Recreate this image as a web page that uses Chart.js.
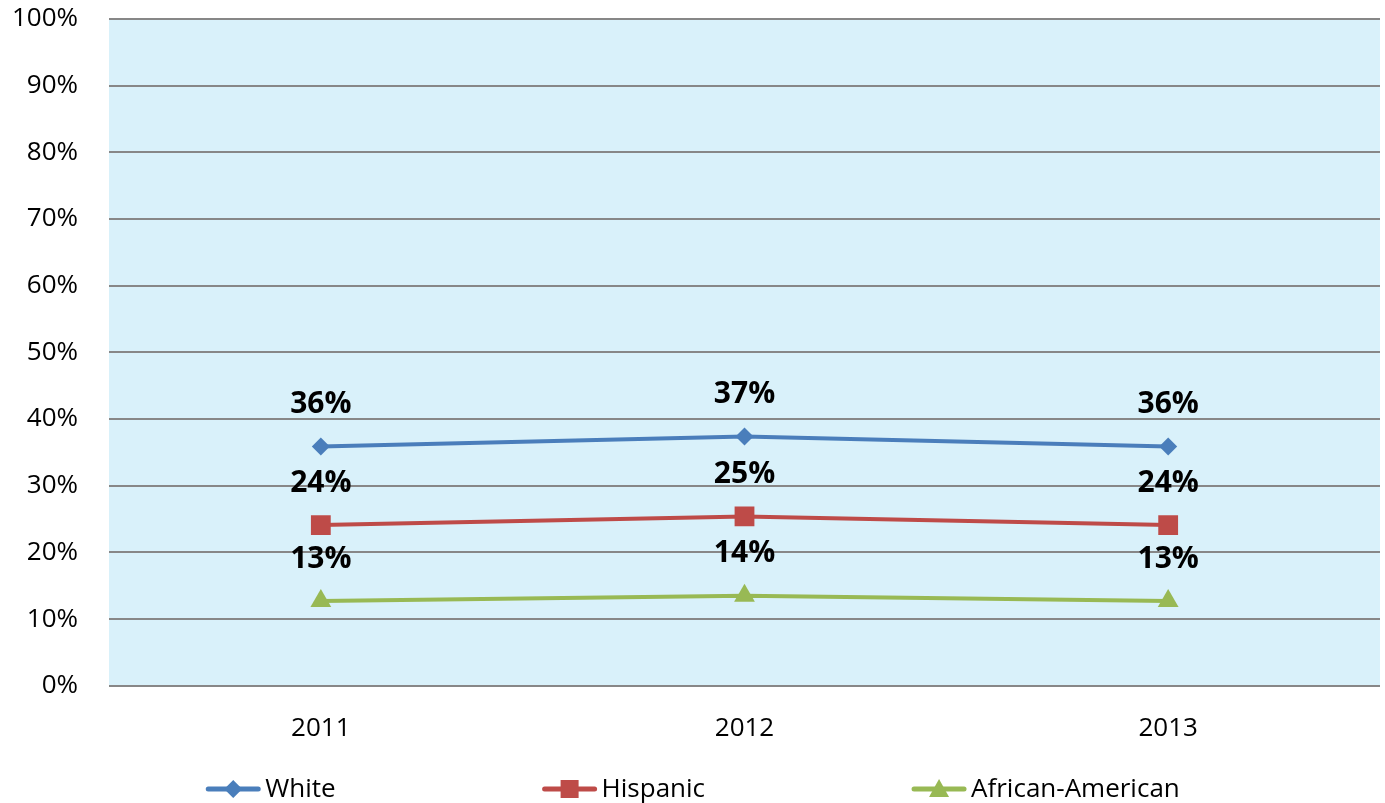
<!DOCTYPE html>
<html>
<head>
<meta charset="utf-8">
<script src="https://cdn.jsdelivr.net/npm/chart.js@4.4.1/dist/chart.umd.min.js"></script>
<style>
	body { margin: 0; background: #ffffff; }
	#wrap { width: 1385px; height: 803px; position: relative; }
</style>
</head>
<body>
<div id="wrap"><canvas id="chart"></canvas></div>
<script>
const years = ['2011', '2012', '2013'];
const white = [35.9, 37.4, 35.9];
const hispanic = [24.1, 25.4, 24.1];
const africanAmerican = [12.7, 13.5, 12.7];

const FONT = '"Open Sans", "Liberation Sans", sans-serif';

// marker shape for the legend (lines use Chart.js point styles)
function drawMarker(ctx, style, x, y) {
	ctx.beginPath();
	if (style === 'rectRot') {
		ctx.moveTo(x, y - 9); ctx.lineTo(x + 9, y); ctx.lineTo(x, y + 9); ctx.lineTo(x - 9, y);
	} else if (style === 'rect') {
		ctx.rect(x - 9, y - 9, 18, 18);
	} else {
		ctx.moveTo(x, y - 10); ctx.lineTo(x + 10, y + 8); ctx.lineTo(x - 10, y + 8);
	}
	ctx.closePath();
	ctx.fill();
}

// percentage labels above each point
const valueLabels = {
	id: 'valueLabels',
	afterDatasetsDraw(chart) {
		const ctx = chart.ctx;
		ctx.save();
		ctx.font = 'bold 30px ' + FONT;
		ctx.fillStyle = '#000000';
		ctx.textAlign = 'center';
		ctx.textBaseline = 'middle';
		chart.data.datasets.forEach((ds, i) => {
			chart.getDatasetMeta(i).data.forEach((pt, j) => {
				ctx.fillText(Math.round(ds.data[j]) + '%', pt.x, pt.y - 42);
			});
		});
		ctx.restore();
	}
};

// light blue plot background
const plotBackground = {
	id: 'plotBackground',
	beforeDraw(chart) {
		const a = chart.chartArea;
		chart.ctx.save();
		chart.ctx.fillStyle = '#d9f1fa';
		chart.ctx.fillRect(a.left, a.top, a.right - a.left, a.bottom - a.top);
		chart.ctx.restore();
	}
};

// bottom legend: line + marker, then the name, items spread wide
const bottomLegend = {
	id: 'bottomLegend',
	afterDraw(chart) {
		const ctx = chart.ctx;
		const y = 789;
		const gap = 206;
		ctx.save();
		ctx.font = '26px ' + FONT;
		ctx.textBaseline = 'middle';
		const items = chart.data.datasets.map(ds => ({
			ds: ds,
			w: 56 + 4 + ctx.measureText(ds.label).width,
		}));
		const total = items.reduce((s, it) => s + it.w, 0) + gap * (items.length - 1);
		let x = (chart.width - total) / 2;
		items.forEach(it => {
			ctx.strokeStyle = it.ds.borderColor;
			ctx.fillStyle = it.ds.borderColor;
			ctx.lineWidth = 5;
			ctx.lineCap = 'round';
			ctx.beginPath();
			ctx.moveTo(x + 3, y);
			ctx.lineTo(x + 53, y);
			ctx.stroke();
			drawMarker(ctx, it.ds.pointStyle, x + 28, y);
			ctx.fillStyle = '#000000';
			ctx.fillText(it.ds.label, x + 60, y + 1);
			x += it.w + gap;
		});
		ctx.restore();
	}
};

const series = [
	{ label: 'White', data: white, color: '#4a7ebb', style: 'rectRot', radius: 9 },
	{ label: 'Hispanic', data: hispanic, color: '#be4b48', style: 'rect', radius: 14 },
	{ label: 'African-American', data: africanAmerican, color: '#98b954', style: 'triangle', radius: 12 },
];

const config = {
	type: 'line',
	data: {
		labels: years,
		datasets: series.map(s => ({
			label: s.label,
			data: s.data,
			borderColor: s.color,
			backgroundColor: s.color,
			borderWidth: 4,
			pointStyle: s.style,
			pointRadius: s.radius,
			pointBorderWidth: 0,
			tension: 0,
		}))
	},
	options: {
		responsive: true,
		maintainAspectRatio: false,
		animation: false,
		layout: {
			autoPadding: false,
			padding: { left: 0, right: 5, top: 19, bottom: 40 },
		},
		scales: {
			x: {
				offset: true,
				grid: { display: false },
				border: { display: false },
				afterFit(scale) {
					scale.paddingLeft = 0;
					scale.paddingRight = 0;
				},
				ticks: {
					color: '#000000',
					padding: 19,
					font: { family: FONT, size: 26 },
				},
			},
			y: {
				min: 0,
				max: 100,
				border: { display: false },
				grid: {
					color: '#878787',
					lineWidth: 2,
					drawTicks: false,
				},
				afterFit(scale) {
					scale.width = 109;
					scale.paddingTop = 0;
					scale.paddingBottom = 0;
				},
				ticks: {
					stepSize: 10,
					color: '#000000',
					padding: 31,
					font: { family: FONT, size: 26 },
					callback: v => v + '%',
				},
			},
		},
		plugins: {
			tooltip: { enabled: false },
			legend: { display: false },
		},
	},
	plugins: [plotBackground, valueLabels, bottomLegend],
};

const chartCtx = document.getElementById('chart');
const chart = new Chart(chartCtx, config);
</script>
</body>
</html>
